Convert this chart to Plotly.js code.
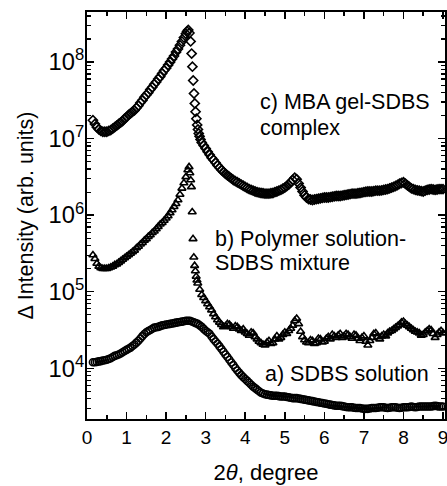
<!DOCTYPE html>
<html>
<head>
<meta charset="utf-8">
<script src="https://cdn.plot.ly/plotly-3.0.1.min.js"></script>
<style>html,body{margin:0;padding:0;background:#fff}#chart{width:447px;height:486px}</style>
</head>
<body>
<div id="chart"></div>
<script>
// c) MBA gel-SDBS complex (diamonds)
const xC = [0.15,0.2,0.25,0.3,0.35,0.4,0.45,0.5,0.55,0.6,0.65,0.7,0.75,0.8,0.85,0.9,0.95,1.0,1.05,1.1,1.15,1.2,1.25,1.3,1.35,1.4,1.45,1.5,1.55,1.6,1.65,1.7,1.75,1.8,1.85,1.9,1.95,2.0,2.05,2.1,2.15,2.2,2.25,2.3,2.35,2.4,2.45,2.5,2.53,2.56,
  2.59,2.62,2.645,2.665,2.685,2.705,2.725,2.745,2.765,2.785,2.805,2.825,2.845,2.87,2.9,2.95,3.0,3.05,3.1,3.15,
  3.2,3.25,3.3,3.35,3.4,3.45,3.5,3.55,3.6,3.65,3.7,3.75,3.8,3.85,3.9,3.95,4.0,4.05,4.1,4.15,4.2,4.25,4.3,4.35,4.4,4.45,4.5,4.55,4.6,4.65,4.7,4.75,4.8,4.85,4.9,4.95,
  5.0,5.05,5.1,5.15,5.2,5.25,5.3,5.35,5.4,5.45,5.5,5.55,5.6,5.65,5.7,5.75,5.8,5.85,5.9,5.95,6.0,6.05,6.1,6.15,6.2,6.25,6.3,6.35,6.4,6.45,6.5,6.55,6.6,6.65,6.7,6.75,6.8,6.85,6.9,6.95,
  7.0,7.05,7.1,7.15,7.2,7.25,7.3,7.35,7.4,7.45,7.5,7.55,7.6,7.65,7.7,7.75,7.8,7.85,7.9,7.95,8.0,8.05,8.1,8.15,8.2,8.25,8.3,8.35,8.4,8.45,8.5,8.55,8.6,8.65,8.7,8.75,8.8,8.85,8.9,8.95,9.0];
const yC = [1.74e7,1.55e7,1.41e7,1.32e7,1.26e7,1.23e7,1.23e7,1.23e7,1.26e7,1.29e7,1.35e7,1.41e7,1.48e7,1.55e7,1.62e7,1.70e7,1.82e7,1.91e7,2.04e7,2.14e7,2.24e7,2.34e7,2.51e7,2.69e7,2.95e7,3.16e7,3.47e7,3.72e7,3.98e7,4.37e7,4.68e7,5.13e7,5.50e7,6.03e7,6.46e7,7.08e7,7.76e7,8.32e7,9.12e7,1.00e8,1.10e8,1.20e8,1.35e8,1.48e8,1.66e8,1.86e8,2.09e8,2.34e8,2.51e8,2.63e8,
  2.40e8,1.86e8,1.29e8,8.71e7,5.75e7,3.89e7,2.88e7,2.24e7,1.82e7,1.51e7,1.32e7,1.17e7,1.07e7,9.77e6,8.91e6,8.13e6,7.41e6,6.76e6,6.17e6,5.62e6,
  5.25e6,4.84e6,4.47e6,4.17e6,3.89e6,3.67e6,3.47e6,3.31e6,3.16e6,3.02e6,2.88e6,2.78e6,2.69e6,2.60e6,2.51e6,2.42e6,2.34e6,2.26e6,2.19e6,2.14e6,2.09e6,2.04e6,2.00e6,1.97e6,1.95e6,1.93e6,1.91e6,1.91e6,1.91e6,1.93e6,1.95e6,2.00e6,2.04e6,2.09e6,2.14e6,2.21e6,
  2.29e6,2.40e6,2.51e6,2.69e6,2.88e6,3.09e6,2.95e6,2.60e6,2.29e6,2.04e6,1.82e6,1.70e6,1.62e6,1.60e6,1.58e6,1.60e6,1.62e6,1.64e6,1.66e6,1.68e6,1.70e6,1.70e6,1.70e6,1.72e6,1.74e6,1.76e6,1.78e6,1.78e6,1.78e6,1.80e6,1.82e6,1.84e6,1.86e6,1.88e6,1.91e6,1.91e6,1.91e6,1.93e6,1.95e6,1.97e6,
  2.00e6,2.02e6,2.04e6,2.04e6,2.04e6,2.06e6,2.09e6,2.09e6,2.09e6,2.11e6,2.14e6,2.16e6,2.19e6,2.24e6,2.29e6,2.34e6,2.40e6,2.48e6,2.57e6,2.63e6,2.69e6,2.57e6,2.45e6,2.34e6,2.24e6,2.19e6,2.14e6,2.11e6,2.09e6,2.06e6,2.04e6,2.09e6,2.14e6,2.16e6,2.19e6,2.16e6,2.14e6,2.16e6,2.19e6,2.19e6,2.19e6];

// b) Polymer solution-SDBS mixture (triangles)
const xB = [0.15,0.2,0.25,0.3,0.35,0.4,0.45,0.5,0.55,0.6,0.65,0.7,0.75,0.8,0.85,0.9,0.95,1.0,1.05,1.1,1.15,1.2,1.25,1.3,1.35,1.4,1.45,1.5,1.55,1.6,1.65,1.7,1.75,1.8,1.85,1.9,1.95,2.0,2.05,2.1,2.15,2.2,2.25,2.3,2.35,2.4,2.45,2.5,2.55,2.58,
  2.6,2.62,2.64,2.66,2.68,2.7,2.72,2.74,2.76,2.78,2.8,2.85,2.9,2.95,3.0,3.05,3.1,3.15,
  3.2,3.25,3.3,3.35,3.4,3.45,3.5,3.55,3.6,3.65,3.7,3.75,3.8,3.85,3.9,3.95,4.0,4.05,4.1,4.15,4.2,4.25,4.3,4.35,4.4,4.45,4.5,4.55,4.6,4.65,4.7,4.75,4.8,4.85,4.9,4.95,
  5.0,5.05,5.1,5.15,5.2,5.25,5.3,5.35,5.4,5.45,5.5,5.55,5.6,5.65,5.7,5.75,5.8,5.85,5.9,5.95,6.0,6.05,6.1,6.15,6.2,6.25,6.3,6.35,6.4,6.45,6.5,6.55,6.6,6.65,6.7,6.75,6.8,6.85,6.9,6.95,
  7.0,7.05,7.1,7.15,7.2,7.25,7.3,7.35,7.4,7.45,7.5,7.55,7.6,7.65,7.7,7.75,7.8,7.85,7.9,7.95,8.0,8.05,8.1,8.15,8.2,8.25,8.3,8.35,8.4,8.45,8.5,8.55,8.6,8.65,8.7,8.75,8.8,8.85,8.9,8.95,9.0];
const yB = [3.02e5,2.69e5,2.34e5,2.14e5,2.04e5,2.00e5,2.00e5,2.00e5,2.04e5,2.09e5,2.14e5,2.24e5,2.29e5,2.40e5,2.51e5,2.63e5,2.75e5,2.88e5,3.02e5,3.16e5,3.31e5,3.47e5,3.72e5,3.89e5,4.17e5,4.37e5,4.68e5,4.90e5,5.25e5,5.50e5,5.89e5,6.17e5,6.61e5,7.08e5,7.59e5,7.94e5,8.51e5,9.12e5,9.77e5,1.07e6,1.17e6,1.29e6,1.41e6,1.58e6,1.86e6,2.24e6,2.63e6,3.16e6,3.89e6,4.27e6,
  3.55e6,2.88e6,2.34e6,1.10e6,4.90e5,2.82e5,2.19e5,1.86e5,1.58e5,1.41e5,1.29e5,1.07e5,9.12e4,8.32e4,7.59e4,6.92e4,6.31e4,5.75e4,
  5.13e4,4.68e4,4.27e4,3.98e4,3.72e4,3.47e4,3.55e4,3.80e4,3.72e4,3.47e4,3.31e4,3.55e4,3.47e4,3.24e4,3.09e4,3.24e4,2.95e4,2.82e4,2.69e4,2.95e4,2.88e4,2.57e4,2.40e4,2.24e4,2.14e4,2.04e4,2.00e4,2.19e4,2.29e4,2.09e4,2.14e4,2.40e4,2.63e4,2.40e4,2.51e4,2.75e4,
  2.95e4,2.82e4,3.09e4,3.31e4,3.63e4,4.17e4,4.47e4,3.80e4,3.02e4,2.57e4,2.34e4,2.19e4,2.14e4,2.34e4,2.29e4,2.09e4,2.14e4,2.45e4,2.40e4,2.19e4,2.24e4,2.45e4,2.57e4,2.40e4,2.75e4,2.63e4,2.51e4,2.69e4,2.82e4,2.51e4,2.63e4,2.82e4,2.75e4,2.57e4,2.45e4,2.75e4,2.69e4,2.45e4,2.29e4,2.51e4,
  2.63e4,2.24e4,2.00e4,2.29e4,2.51e4,2.82e4,2.88e4,2.57e4,2.40e4,2.63e4,2.75e4,2.63e4,2.88e4,3.02e4,3.09e4,3.24e4,3.39e4,3.55e4,3.72e4,3.98e4,4.07e4,3.80e4,3.63e4,3.47e4,3.31e4,3.16e4,3.02e4,2.95e4,2.88e4,2.69e4,2.75e4,2.95e4,3.09e4,3.24e4,3.16e4,2.82e4,2.51e4,2.75e4,2.95e4,3.09e4,2.88e4];

// a) SDBS solution (circles)
const xA = [0.15,0.2,0.25,0.3,0.35,0.4,0.45,0.5,0.55,0.6,0.65,0.7,0.75,0.8,0.85,0.9,0.95,1.0,1.05,1.1,1.15,1.2,1.25,1.3,1.35,1.4,1.45,1.5,1.55,1.6,1.65,1.7,1.75,1.8,1.85,1.9,1.95,
  2.0,2.05,2.1,2.15,2.2,2.25,2.3,2.35,2.4,2.45,2.5,2.55,2.6,2.65,2.7,2.75,2.8,2.85,2.9,2.95,3.0,3.05,3.1,3.15,3.2,3.25,3.3,3.35,3.4,3.45,3.5,3.55,3.6,3.65,3.7,3.75,3.8,3.85,3.9,3.95,
  4.0,4.05,4.1,4.15,4.2,4.25,4.3,4.35,4.4,4.45,4.5,4.55,4.6,4.65,4.7,4.75,4.8,4.85,4.9,4.95,5.0,5.05,5.1,5.15,5.2,5.25,5.3,5.35,5.4,5.45,5.5,5.55,5.6,5.65,5.7,5.75,5.8,5.85,5.9,5.95,
  6.0,6.05,6.1,6.15,6.2,6.25,6.3,6.35,6.4,6.45,6.5,6.55,6.6,6.65,6.7,6.75,6.8,6.85,6.9,6.95,7.0,7.05,7.1,7.15,7.2,7.25,7.3,7.35,7.4,7.45,7.5,7.55,7.6,7.65,7.7,7.75,7.8,7.85,7.9,7.95,
  8.0,8.05,8.1,8.15,8.2,8.25,8.3,8.35,8.4,8.45,8.5,8.55,8.6,8.65,8.7,8.75,8.8,8.85,8.9,8.95,9.0];
const yA = [1.20e4,1.20e4,1.21e4,1.23e4,1.24e4,1.26e4,1.27e4,1.29e4,1.32e4,1.35e4,1.40e4,1.45e4,1.48e4,1.51e4,1.56e4,1.62e4,1.68e4,1.74e4,1.80e4,1.86e4,1.95e4,2.04e4,2.16e4,2.29e4,2.45e4,2.63e4,2.80e4,2.95e4,3.06e4,3.16e4,3.28e4,3.39e4,3.43e4,3.47e4,3.55e4,3.63e4,3.67e4,
  3.72e4,3.76e4,3.80e4,3.85e4,3.89e4,3.94e4,3.98e4,4.02e4,4.07e4,4.12e4,4.17e4,4.17e4,4.17e4,4.08e4,3.98e4,3.89e4,3.80e4,3.63e4,3.47e4,3.27e4,3.09e4,2.95e4,2.82e4,2.60e4,2.40e4,2.24e4,2.09e4,1.93e4,1.78e4,1.64e4,1.51e4,1.40e4,1.29e4,1.19e4,1.10e4,1.01e4,9.33e3,8.71e3,8.13e3,7.66e3,
  7.24e3,6.84e3,6.46e3,6.09e3,5.75e3,5.50e3,5.25e3,5.01e3,4.79e3,4.68e3,4.57e3,4.52e3,4.47e3,4.42e3,4.37e3,4.37e3,4.37e3,4.32e3,4.27e3,4.27e3,4.27e3,4.22e3,4.17e3,4.12e3,4.07e3,4.07e3,4.07e3,4.02e3,3.98e3,3.94e3,3.89e3,3.85e3,3.80e3,3.76e3,3.72e3,3.67e3,3.63e3,3.59e3,3.55e3,3.51e3,
  3.47e3,3.43e3,3.39e3,3.35e3,3.31e3,3.27e3,3.24e3,3.24e3,3.24e3,3.20e3,3.16e3,3.12e3,3.09e3,3.09e3,3.09e3,3.05e3,3.02e3,3.02e3,3.02e3,2.98e3,2.95e3,2.95e3,2.95e3,2.98e3,3.02e3,3.02e3,3.02e3,3.05e3,3.09e3,3.09e3,3.09e3,3.05e3,3.02e3,3.05e3,3.09e3,3.09e3,3.09e3,3.05e3,3.02e3,3.05e3,
  3.09e3,3.09e3,3.09e3,3.12e3,3.16e3,3.12e3,3.09e3,3.12e3,3.16e3,3.16e3,3.16e3,3.16e3,3.16e3,3.16e3,3.16e3,3.20e3,3.24e3,3.20e3,3.16e3,3.16e3,3.16e3];

const labels = ["c) MBA gel-SDBS", "complex", "b) Polymer solution-", "SDBS mixture", "a) SDBS solution"];
const xTitle = "2<i>θ</i>, degree";
const yTitle = "Δ Intensity (arb. units)";

const FONT = "Liberation Sans, Arial, Helvetica, sans-serif";
function mk(sym, size) {
  return {symbol: sym, size: size, color: "black", line: {width: 1.6, color: "black"}};
}
const traces = [
  {x: xC, y: yC, type: "scatter", mode: "markers", marker: mk("diamond-open", 7), name: "c"},
  {x: xB, y: yB, type: "scatter", mode: "markers", marker: mk("triangle-up-open", 7), name: "b"},
  {x: xA, y: yA, type: "scatter", mode: "markers", marker: mk("circle-open", 7), name: "a"}
];

const L = 87, R = 445, T = 12, B = 419;
function px(x) { return (x - L) / (R - L); }
function py(y) { return (B - y) / (B - T); }
const annPos = [[258, 102], [258, 128], [213, 239], [213, 263], [263, 374]];
const annotations = labels.map((t, i) => ({
  text: t, xref: "paper", yref: "paper", x: px(annPos[i][0]), y: py(annPos[i][1]),
  xanchor: "left", yanchor: "middle", showarrow: false,
  font: {family: FONT, size: 21.5, color: "black"}
}));

const layout = {
  width: 447, height: 486,
  margin: {l: L, r: 447 - R, t: T, b: 486 - B, pad: 0},
  paper_bgcolor: "white", plot_bgcolor: "white",
  showlegend: false,
  font: {family: FONT, color: "black"},
  xaxis: {
    range: [0, 9.05], showgrid: false, zeroline: false,
    showline: true, linecolor: "black", linewidth: 2, mirror: "ticks",
    ticks: "inside", ticklen: 7, tickwidth: 1.5, tickcolor: "black",
    dtick: 1, tick0: 0, ticklabeloverflow: "allow",
    minor: {dtick: 0.5, ticks: "inside", ticklen: 4, tickwidth: 1.5, tickcolor: "black", showgrid: false},
    tickfont: {family: FONT, size: 19, color: "black"},
    title: {text: xTitle, font: {family: FONT, size: 22, color: "black"}, standoff: 18}
  },
  yaxis: {
    type: "log", range: [3.337, 8.654], showgrid: false, zeroline: false,
    showline: true, linecolor: "black", linewidth: 2, mirror: "ticks",
    ticks: "inside", ticklen: 7, tickwidth: 1.5, tickcolor: "black",
    dtick: 1, exponentformat: "power", ticklabeloverflow: "allow",
    minor: {dtick: "D1", ticks: "inside", ticklen: 4, tickwidth: 1.2, tickcolor: "black", showgrid: false},
    tickfont: {family: FONT, size: 19, color: "black"},
    ticklabelstandoff: -3,
    title: {text: yTitle, font: {family: FONT, size: 21.5, color: "black"}, standoff: 9}
  },
  annotations: annotations
};

Plotly.newPlot("chart", traces, layout, {staticPlot: true, displayModeBar: false});
</script>
</body>
</html>
